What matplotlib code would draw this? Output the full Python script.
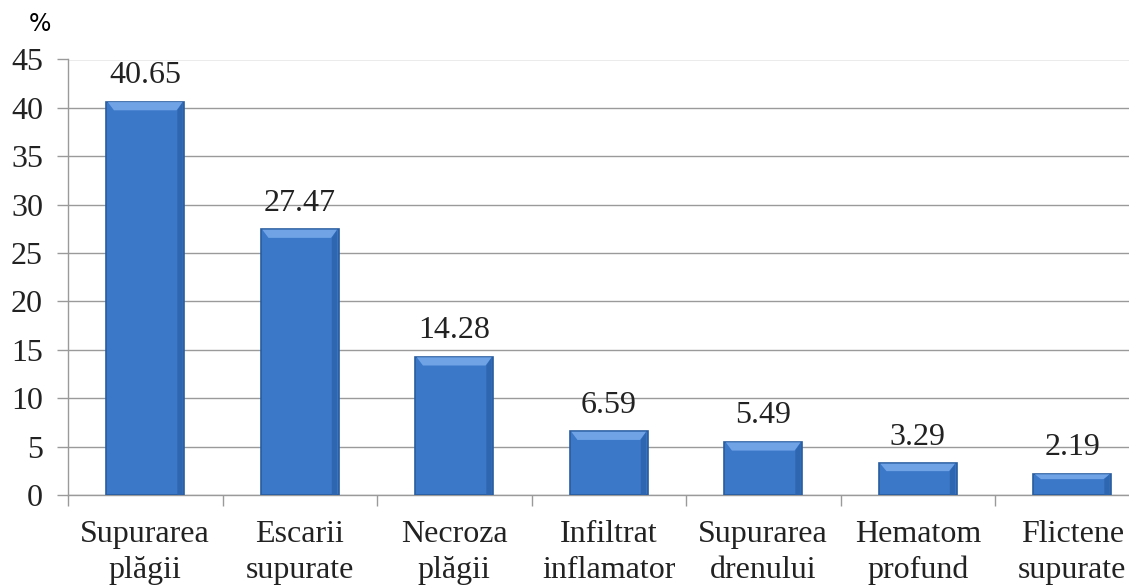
import matplotlib
matplotlib.use("Agg")
import matplotlib.pyplot as plt
import numpy as np

categories = ["Supurarea\nplăgii", "Escarii\nsupurate", "Necroza\nplăgii",
              "Infiltrat\ninflamator", "Supurarea\ndrenului", "Hematom\nprofund",
              "Flictene\nsupurate"]
values = [40.65, 27.47, 14.28, 6.59, 5.49, 3.29, 2.19]
value_labels = ["40.65", "27.47", "14.28", "6.59", "5.49", "3.29", "2.19"]
yticks = [0, 5, 10, 15, 20, 25, 30, 35, 40, 45]

W, H = 1129, 587
fig = plt.figure(figsize=(W / 100, H / 100), dpi=100)
fig.patch.set_facecolor("white")

# axes runs past the right edge of the figure
left_px, top_px, bottom_px = 68, 59.5, 495
slot = 154.5
ax = fig.add_axes([left_px / W, 1 - bottom_px / H,
                   slot * len(values) / W, (bottom_px - top_px) / H])

serif = "Liberation Serif"
fs = 23
x = np.arange(len(values))
bars = ax.bar(x, values, width=0.505, color="#3b78c8", edgecolor="#2a5c9f",
              linewidth=1.2, zorder=3)

# bevel highlight along the top of each bar
for b in bars:
    bx, bw, bh = b.get_x(), b.get_width(), b.get_height()
    cap = min(0.9, bh * 0.25)
    ax.fill([bx + 0.01, bx + bw - 0.01, bx + bw - 0.05, bx + 0.05],
            [bh - 0.05, bh - 0.05, bh - cap, bh - cap],
            color="#6fa3e6", zorder=4, linewidth=0)
    ax.fill([bx + bw - 0.045, bx + bw - 0.01, bx + bw - 0.01, bx + bw - 0.045],
            [bh - cap, bh - 0.05, 0.05, 0.05],
            color="#2f66b0", zorder=4, linewidth=0)

for xi, v, lab in zip(x, values, value_labels):
    ax.text(xi, v + 1.2, lab, ha="center", va="bottom", fontsize=fs,
            family=serif, color="#222222")

ax.set_xlim(-0.5, len(values) - 0.5)
ax.set_ylim(0, 45)
ax.set_yticks(yticks)
ax.set_yticklabels([str(t) for t in yticks], fontsize=fs, family=serif,
                   color="#222222")
ax.yaxis.grid(True, color="#9a9a9a", linewidth=1.0, zorder=0)
ax.set_axisbelow(True)

# category labels sit between boundary tick marks
ax.set_xticks(x)
ax.set_xticklabels(categories, fontsize=fs, family=serif, color="#222222",
                   linespacing=1.3)
ax.tick_params(axis="x", length=0, pad=18)
ax.set_xticks(np.arange(len(values) + 1) - 0.5, minor=True)
ax.tick_params(axis="x", which="minor", length=8, color="#9a9a9a", width=1)
ax.tick_params(axis="y", length=8, color="#9a9a9a", width=1, pad=10)

for side in ["top", "right"]:
    ax.spines[side].set_visible(False)
for side in ["left", "bottom"]:
    ax.spines[side].set_color("#9a9a9a")
    ax.spines[side].set_linewidth(1.0)

fig.text(29 / W, 1 - 24 / H, "%", fontsize=17, family="DejaVu Sans",
         ha="left", va="center", color="black")

fig.savefig("out.png", dpi=100)
